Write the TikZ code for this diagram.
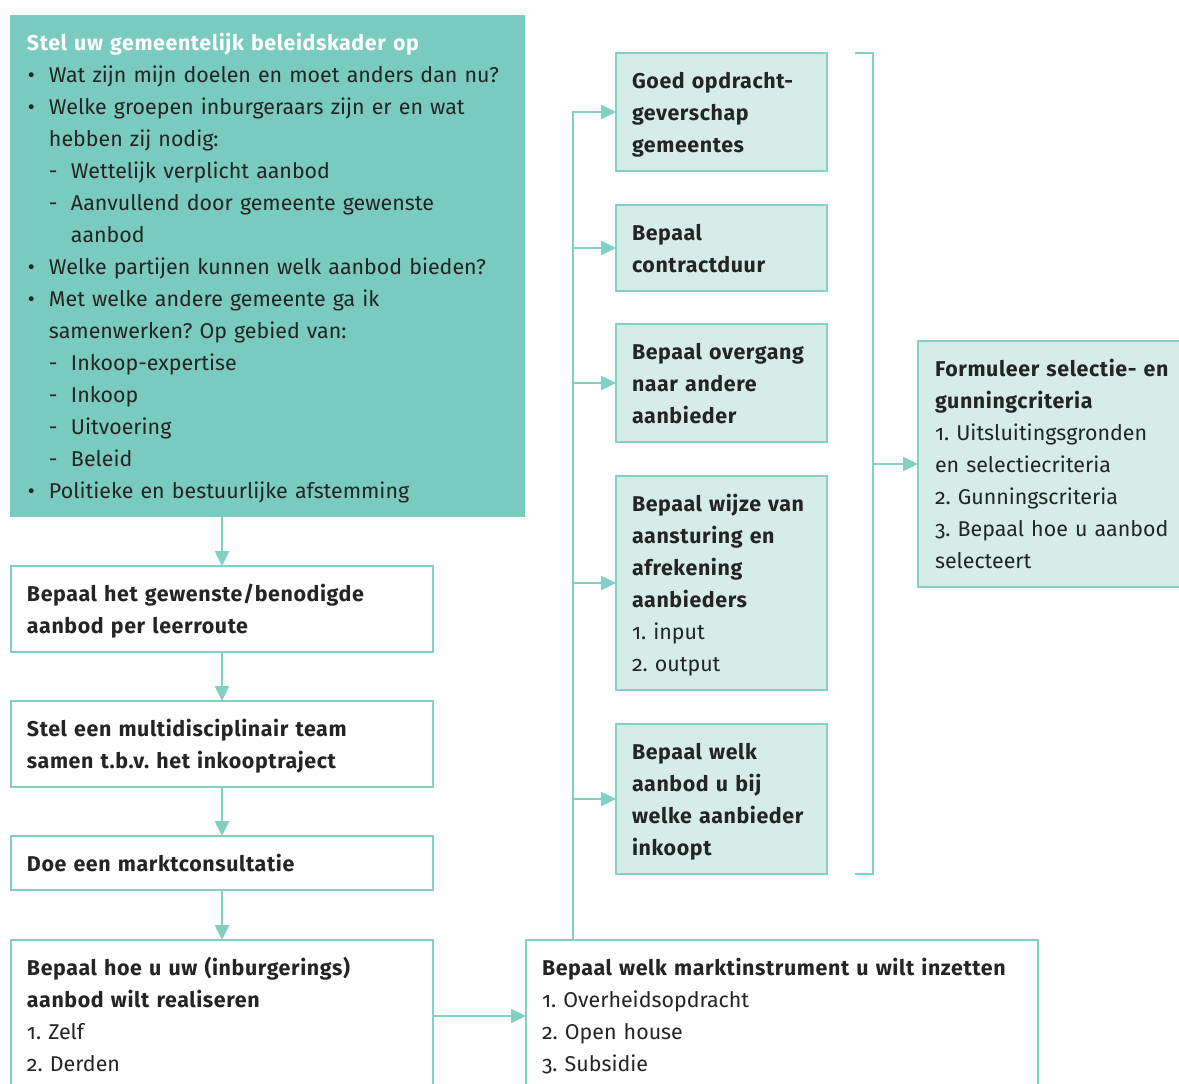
\documentclass[tikz,border=0pt]{standalone}
\usepackage{fontspec}
\setmainfont{Fira Sans}[Numbers=OldStyle, BoldFeatures={LetterSpace=2.8}]
\usetikzlibrary{arrows.meta}
\definecolor{tdark}{HTML}{78CBBE}
\definecolor{tlight}{HTML}{D5ECE7}
\definecolor{tline}{HTML}{80D0C4}
\definecolor{ink}{HTML}{242424}
\newcommand\myb{\hspace*{1pt}\makebox[21pt][l]{•}}
\newcommand\myi{\hspace*{22pt}}
\newcommand\myd{\hspace*{22pt}\makebox[22pt][l]{-}}
\newcommand\mydi{\hspace*{44pt}}
\tikzset{
  box/.style={draw=tline, line width=1.5pt, inner sep=0pt, outer sep=0pt},
  lbox/.style={box, fill=tlight},
  wbox/.style={box, fill=white},
  txt/.style={anchor=north west, inner sep=0pt, outer sep=0pt, text=ink, text width=#1,
    align=left, font=\fontsize{21.4}{32}\selectfont\frenchspacing},
  txt/.default=400pt,
  conn/.style={draw=tline, line width=2.5pt, -{Triangle[length=15pt,width=14pt]}},
  plain/.style={draw=tline, line width=2.5pt}
}
\begin{document}
\begin{tikzpicture}[x=1pt,y=-1pt]
\clip (0,0) rectangle (1179,1084);
\fill[white] (0,0) rectangle (1179,1084);
% left column
\node[box, draw=none, fill=tdark, minimum width=515pt, minimum height=502pt] (top) at (267.5,266) {};
\node[wbox, minimum width=422pt, minimum height=86pt] (b2) at (222,609) {};
\node[wbox, minimum width=422pt, minimum height=86pt] (b3) at (222,744) {};
\node[wbox, minimum width=422pt, minimum height=54pt] (b4) at (222,863) {};
\node[wbox, minimum width=422pt, minimum height=170pt] (b5) at (222,1025) {};
\node[wbox, minimum width=512pt, minimum height=170pt] (b6) at (782,1025) {};
% middle column
\node[lbox, minimum width=211pt, minimum height=118pt] (g1) at (721.5,112) {};
\node[lbox, minimum width=211pt, minimum height=86pt] (g2) at (721.5,248) {};
\node[lbox, minimum width=211pt, minimum height=118pt] (g3) at (721.5,383) {};
\node[lbox, minimum width=211pt, minimum height=214pt] (g4) at (721.5,583) {};
\node[lbox, minimum width=211pt, minimum height=150pt] (g5) at (721.5,799) {};
% right
\node[lbox, minimum width=272pt, minimum height=246pt] (rb) at (1054,464) {};

% texts
\node[txt=505pt] (ttop) at ([xshift=17pt,yshift=-12.8pt]top.north west) {\strut\textbf{\color{white}Stel uw gemeentelijk beleidskader op}\\
\myb Wat zijn mijn doelen en moet anders dan nu?\\
\myb Welke groepen inburgeraars zijn er en wat\\
\myi hebben zij nodig:\\
\myd Wettelijk verplicht aanbod\\
\myd Aanvullend door gemeente gewenste\\
\mydi aanbod\\
\myb Welke partijen kunnen welk aanbod bieden?\\
\myb Met welke andere gemeente ga ik\\
\myi samenwerken? Op gebied van:\\
\myd Inkoop-expertise\\
\myd Inkoop\\
\myd Uitvoering\\
\myd Beleid\\
\myb Politieke en bestuurlijke afstemming};
\node[txt] (tb2) at ([xshift=16pt,yshift=-12.8pt]b2.north west) {\strut\textbf{Bepaal het gewenste/benodigde}\\\textbf{aanbod per leerroute}};
\node[txt] (tb3) at ([xshift=16pt,yshift=-12.8pt]b3.north west) {\strut\textbf{Stel een multidisciplinair team}\\\textbf{samen t.b.v. het inkooptraject}};
\node[txt] (tb4) at ([xshift=16pt,yshift=-12.8pt]b4.north west) {\strut\textbf{Doe een marktconsultatie}};
\node[txt] (tb5) at ([xshift=16pt,yshift=-12.8pt]b5.north west) {\strut\textbf{Bepaal hoe u uw (inburgerings)}\\\textbf{aanbod wilt realiseren}\\1.~Zelf\\2.~Derden};
\node[txt=500pt] (tb6) at ([xshift=16pt,yshift=-12.8pt]b6.north west) {\strut\textbf{Bepaal welk marktinstrument u wilt inzetten}\\1.~Overheidsopdracht\\2.~Open house\\3.~Subsidie};
\node[txt=200pt] (tg1) at ([xshift=16pt,yshift=-12.8pt]g1.north west) {\strut\textbf{Goed opdracht-}\\\textbf{geverschap}\\\textbf{gemeentes}};
\node[txt=200pt] (tg2) at ([xshift=16pt,yshift=-12.8pt]g2.north west) {\strut\textbf{Bepaal}\\\textbf{contractduur}};
\node[txt=200pt] (tg3) at ([xshift=16pt,yshift=-12.8pt]g3.north west) {\strut\textbf{Bepaal overgang}\\\textbf{naar andere}\\\textbf{aanbieder}};
\node[txt=200pt] (tg4) at ([xshift=16pt,yshift=-12.8pt]g4.north west) {\strut\textbf{Bepaal wijze van}\\\textbf{aansturing en}\\\textbf{afrekening}\\\textbf{aanbieders}\\1.~input\\2.~output};
\node[txt=200pt] (tg5) at ([xshift=16pt,yshift=-12.8pt]g5.north west) {\strut\textbf{Bepaal welk}\\\textbf{aanbod u bij}\\\textbf{welke aanbieder}\\\textbf{inkoopt}};
\node[txt=250pt] (trb) at ([xshift=17pt,yshift=-12.8pt]rb.north west) {\strut\textbf{Formuleer selectie- en}\\\textbf{gunningcriteria}\\1.~Uitsluitingsgronden\\en selectiecriteria\\2.~Gunningscriteria\\3.~Bepaal hoe u aanbod\\selecteert};

% connectors left column
\draw[conn] (b2.north |- top.south) -- (b2.north);
\draw[conn] (b2.south) -- (b3.north);
\draw[conn] (b3.south) -- (b4.north);
\draw[conn] (b4.south) -- (b5.north);
\coordinate (hy) at (0,1016);
\draw[conn] (b5.east |- hy) -- (b6.west |- hy);
% trunk
\coordinate (tr) at (573,0);
\draw[conn, line join=miter] (b6.north -| tr) -- (g1.west -| tr) -- (g1.west);
\draw[conn] (g2.west -| tr) -- (g2.west);
\draw[conn] (g3.west -| tr) -- (g3.west);
\draw[conn] (g4.west -| tr) -- (g4.west);
\draw[conn] (g5.west -| tr) -- (g5.west);
% bracket
\coordinate (bk) at (873,0);
\draw[plain, line join=miter] ([xshift=28pt]g1.north east) -- (g1.north -| bk) -- (g5.south -| bk) -- ([xshift=28pt]g5.south east);
\draw[conn] (rb.west -| bk) -- (rb.west);
\end{tikzpicture}
\end{document}
